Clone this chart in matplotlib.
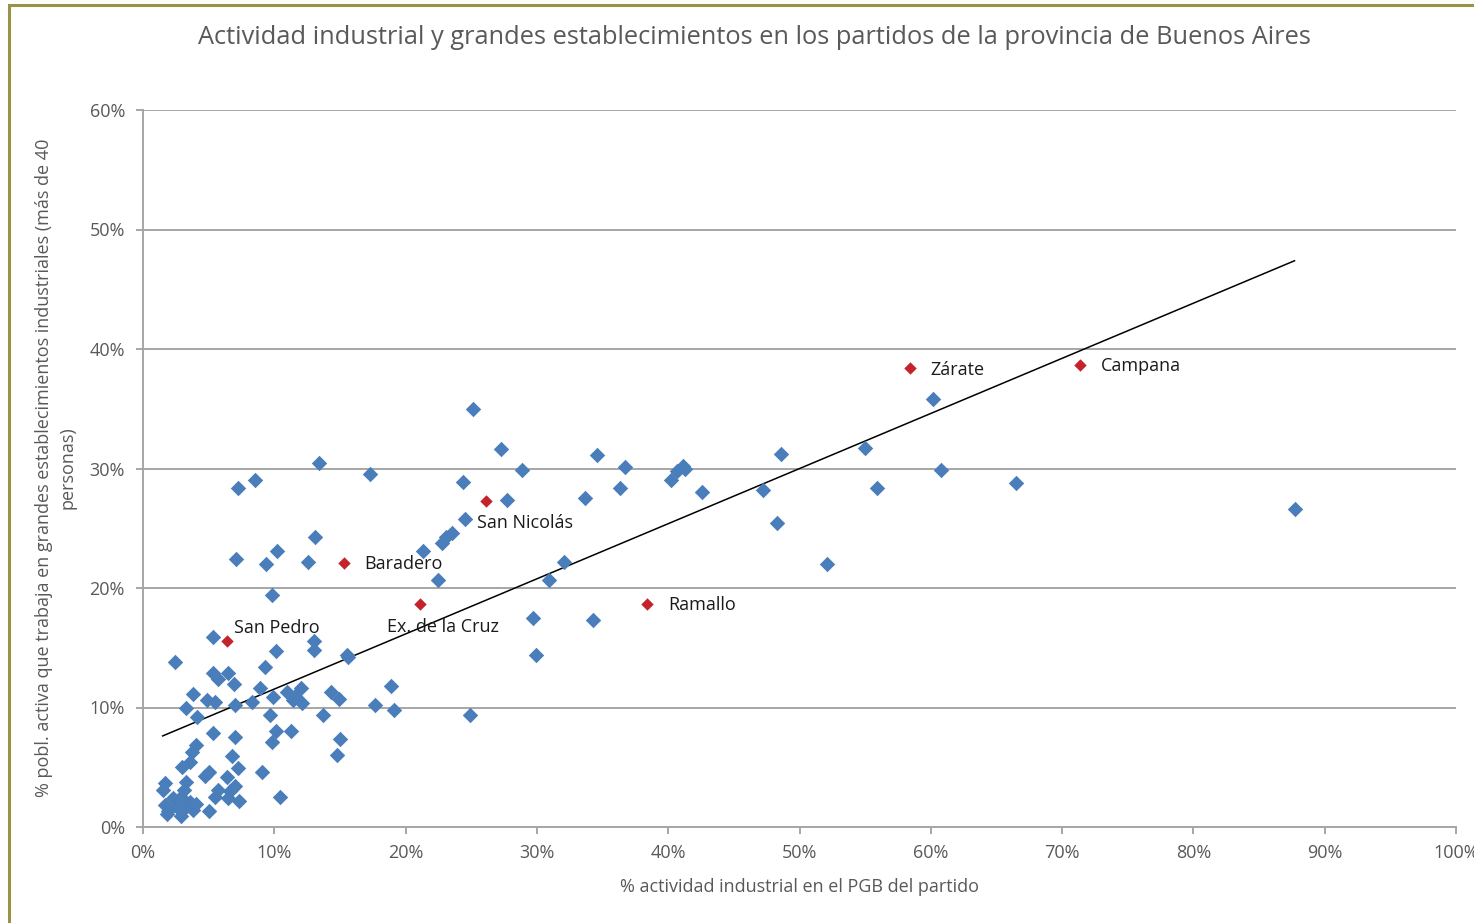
import matplotlib.pyplot as plt
import numpy as np
from matplotlib.patches import Rectangle
from matplotlib.ticker import FuncFormatter, MultipleLocator

plt.rcParams['font.family'] = ['Open Sans', 'DejaVu Sans']

# % actividad industrial en el PGB (x) y % poblacion activa en grandes establecimientos (y)
pgb_ind = [
    87.7, 66.5, 60.8, 60.2, 55.9, 55.0, 52.1, 48.6, 47.2, 48.3,
    42.6, 41.3, 41.1, 40.7, 40.2, 36.7, 36.3, 34.6, 33.7, 34.3,
    32.1, 30.9, 29.7, 29.9, 28.9, 27.7, 27.3, 25.1, 24.4, 24.5,
    23.5, 23.1, 22.8, 22.5, 21.3, 24.9, 17.3, 13.4, 13.1, 12.6,
    10.2, 9.4, 7.1, 9.8, 8.5, 7.2, 18.9, 17.7, 19.1, 15.5,
    15.6, 15.0, 14.8, 13.7, 14.3, 14.9, 13.0, 13.0, 12.0, 11.6,
    11.4, 11.0, 12.1, 11.3, 10.4, 9.1, 10.1, 10.1, 9.8, 9.9,
    9.7, 9.3, 8.9, 8.3, 7.0, 6.9, 6.5, 5.7, 5.3, 5.3,
    2.4, 3.8, 4.9, 5.5, 3.3, 4.1, 5.3, 7.0, 4.0, 3.7,
    6.8, 7.2, 3.0, 3.6, 5.0, 4.7, 6.4, 7.0, 1.7, 3.3,
    1.5, 3.1, 5.7, 5.5, 6.5, 7.3, 2.3, 2.9, 3.6, 1.7,
    1.9, 2.6, 3.2, 3.8, 5.0, 1.8, 2.9, 6.6, 4.0,
]
pobl_gde = [
    26.6, 28.8, 29.9, 35.8, 28.4, 31.7, 22.0, 31.2, 28.2, 25.4,
    28.0, 30.0, 30.2, 29.8, 29.0, 30.1, 28.4, 31.1, 27.5, 17.3,
    22.2, 20.7, 17.5, 14.4, 29.9, 27.4, 31.6, 35.0, 28.9, 25.8,
    24.6, 24.3, 23.8, 20.7, 23.1, 9.4, 29.5, 30.5, 24.3, 22.2,
    23.1, 22.0, 22.4, 19.4, 29.0, 28.4, 11.8, 10.2, 9.8, 14.4,
    14.2, 7.4, 6.0, 9.4, 11.3, 10.7, 15.6, 14.8, 11.6, 11.0,
    10.6, 11.3, 10.4, 8.0, 2.5, 4.6, 14.7, 8.0, 7.1, 10.9,
    9.4, 13.4, 11.6, 10.5, 10.2, 12.0, 12.9, 12.4, 12.9, 15.9,
    13.8, 11.1, 10.6, 10.5, 10.0, 9.2, 7.9, 7.5, 6.9, 6.3,
    5.9, 4.9, 5.0, 5.4, 4.6, 4.3, 4.2, 3.4, 3.7, 3.8,
    3.1, 3.1, 3.1, 2.5, 2.4, 2.2, 2.4, 2.5, 2.1, 1.8,
    1.3, 1.7, 1.6, 1.4, 1.3, 1.1, 0.9, 3.0, 1.9,
]

# partidos destacados
dest_nombres = ['San Pedro', 'Baradero', 'Ex. de la Cruz', 'San Nicolás',
                'Ramallo', 'Zárate', 'Campana']
dest_x = [6.4, 15.3, 21.1, 26.1, 38.4, 58.4, 71.4]
dest_y = [15.6, 22.1, 18.7, 27.3, 18.7, 38.4, 38.7]
# posicion de cada etiqueta respecto del punto (puntos tipograficos)
dest_offsets = [(5, 9), (15, -1), (-24, -17), (-6, -16), (15, -1), (15, -1), (15, -1)]

GRIS = '#595959'
AZUL = '#4a7ebb'
ROJO = '#c4232b'

fig = plt.figure(figsize=(14.74, 9.23), dpi=100)
ax = fig.add_axes([143 / 1474, 96 / 923, 1313 / 1474, 717 / 923])

ax.scatter(pgb_ind, pobl_gde, marker='D', s=62, color=AZUL, linewidths=0, zorder=3)
ax.scatter(dest_x, dest_y, marker='D', s=40, color=ROJO, linewidths=0, zorder=4)

for nombre, x, y, off in zip(dest_nombres, dest_x, dest_y, dest_offsets):
    ax.annotate(nombre, (x, y), xytext=off, textcoords='offset points',
                fontsize=13, color='#1a1a1a', ha='left', va='center')

# linea de tendencia lineal sobre todos los partidos
all_x = np.array(pgb_ind + dest_x)
all_y = np.array(pobl_gde + dest_y)
pend, orig = np.polyfit(all_x, all_y, 1)
xs = np.array([all_x.min(), all_x.max()])
ax.plot(xs, pend * xs + orig, color='black', linewidth=1.1, zorder=2)

ax.set_xlim(0, 100)
ax.set_ylim(0, 60)
ax.xaxis.set_major_locator(MultipleLocator(10))
ax.yaxis.set_major_locator(MultipleLocator(10))
pct = FuncFormatter(lambda v, _: f'{v:.0f}%')
ax.xaxis.set_major_formatter(pct)
ax.yaxis.set_major_formatter(pct)

ax.grid(axis='y', color='#a6a6a6', linewidth=1.4, zorder=0)
ax.set_axisbelow(True)
for side in ['top', 'right']:
    ax.spines[side].set_visible(False)
for side in ['left', 'bottom']:
    ax.spines[side].set_color('#a6a6a6')
    ax.spines[side].set_linewidth(1.4)
ax.tick_params(direction='out', length=5, width=1.4, color='#a6a6a6',
               labelsize=13, labelcolor=GRIS)
ax.tick_params(axis='y', pad=8)
ax.tick_params(axis='x', pad=7)

ax.set_xlabel('% actividad industrial en el PGB del partido', fontsize=13,
              color=GRIS, labelpad=12)
fig.text(56 / 1474, 1 - 468 / 923,
         '% pobl. activa que trabaja en grandes establecimientos industriales (más de 40\npersonas)',
         rotation=90, ha='center', va='center', multialignment='center',
         fontsize=13, color=GRIS, linespacing=1.4)

fig.text(754 / 1474, 1 - 37 / 923,
         'Actividad industrial y grandes establecimientos en los partidos de la provincia de Buenos Aires',
         ha='center', va='center', fontsize=18.3, color=GRIS)

# marco del grafico
fig.patches.append(Rectangle((9 / 1474, -0.5), 2, 0.5 + 1 - 5 / 923,
                             transform=fig.transFigure, fill=False,
                             edgecolor='#9a9246', linewidth=2.2))

fig.savefig('out.png', dpi=100)
